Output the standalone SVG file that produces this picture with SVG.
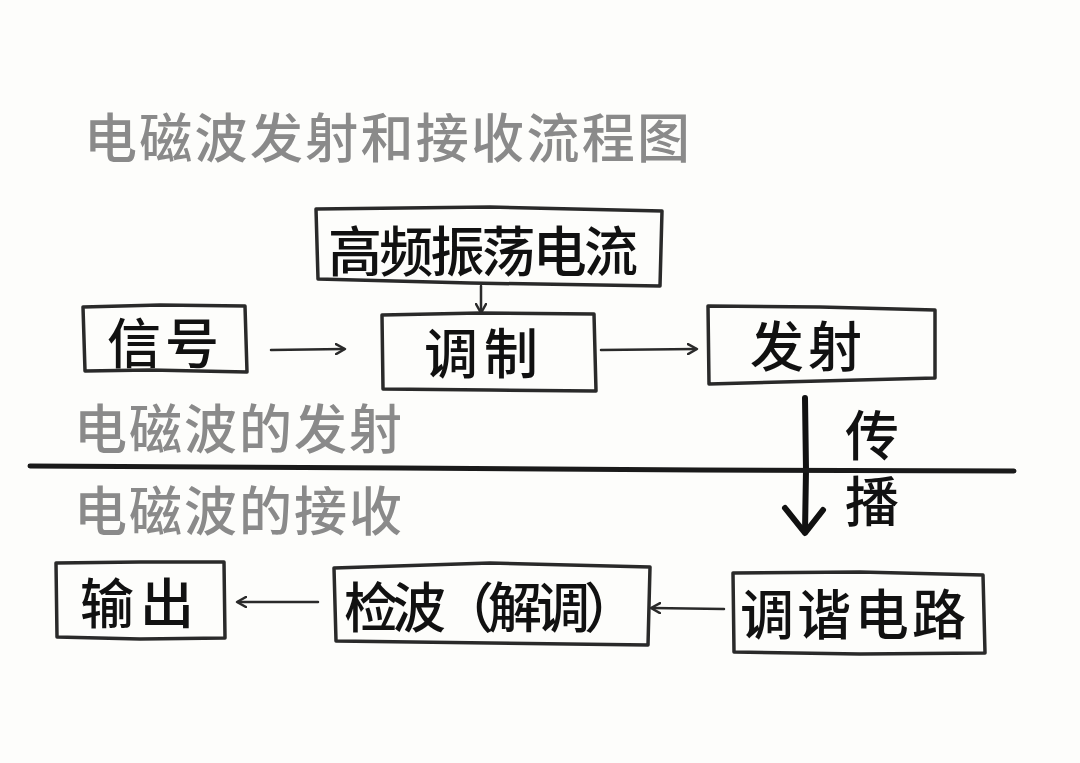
<svg xmlns="http://www.w3.org/2000/svg" width="1080" height="763" viewBox="0 0 1080 763">
<style>
.bg{fill:#fdfdfb}
.box{fill:none;stroke:#2a2a2a;stroke-width:3.5;stroke-linejoin:round;stroke-linecap:round}
.lbl{font-family:"Noto Sans CJK SC","Noto Sans",sans-serif;fill:#111;font-size:54px;font-weight:500}
.gray{font-family:"Noto Sans CJK SC","Noto Sans",sans-serif;fill:#8a8a8a;font-size:53px;font-weight:500}
.conn{fill:none;stroke:#2a2a2a;stroke-width:2.5;stroke-linecap:round}
</style>
<defs>
<marker id="ah" markerWidth="12" markerHeight="12" refX="9" refY="6" orient="auto" markerUnits="userSpaceOnUse">
<path d="M1,1 L10,6 L1,11" fill="none" stroke="#2a2a2a" stroke-width="2.5" stroke-linecap="round" stroke-linejoin="round"/>
</marker>
<marker id="ahbig" markerWidth="50" markerHeight="50" refX="25" refY="42" orient="0" markerUnits="userSpaceOnUse">
<path d="M5,18 L25,43 L43,20" fill="none" stroke="#111" stroke-width="6" stroke-linecap="round" stroke-linejoin="round"/>
</marker>
</defs>
<rect class="bg" x="0" y="0" width="1080" height="763"/>

<text class="gray" x="84" y="158" textLength="606" lengthAdjust="spacing">电磁波发射和接收流程图</text>
<text class="gray" x="74" y="449" textLength="328" lengthAdjust="spacing">电磁波的发射</text>
<text class="gray" x="74" y="531" textLength="328" lengthAdjust="spacing">电磁波的接收</text>

<g id="connectors">
<path class="conn" d="M481,286 L481,312" marker-end="url(#ah)"/>
<path class="conn" d="M271,350 L344,349" marker-end="url(#ah)"/>
<path class="conn" d="M601,350 L696,349" marker-end="url(#ah)"/>
<path d="M805,398 L806,470 L805,532" fill="none" stroke="#111" stroke-width="6" stroke-linecap="round" marker-end="url(#ahbig)"/>
<path class="conn" d="M318,602 L238,602" marker-end="url(#ah)"/>
<path class="conn" d="M724,609 L652,608" marker-end="url(#ah)"/>
<path d="M30,466 L400,468 L700,470 L1014,471" fill="none" stroke="#1a1a1a" stroke-width="5" stroke-linecap="round"/>
</g>

<g id="n-gaopin">
<path class="box" d="M316,209 L490,207 L662,211 L660,286 L470,283 L318,279 Z"/>
<text class="lbl" x="328" y="272" textLength="310" lengthAdjust="spacing">高频振荡电流</text>
</g>
<g id="n-xinhao">
<path class="box" d="M83,307 L160,305 L245,306 L247,372 L150,370 L85,371 Z"/>
<text class="lbl" x="107" y="364" textLength="112" lengthAdjust="spacing">信号</text>
</g>
<g id="n-tiaozhi">
<path class="box" d="M382,315 L480,313 L594,314 L596,391 L490,390 L383,389 Z"/>
<text class="lbl" x="424" y="374" textLength="114" lengthAdjust="spacing">调制</text>
</g>
<g id="n-fashe">
<path class="box" d="M708,306 L820,307 L935,310 L935,378 L820,381 L709,384 Z"/>
<text class="lbl" x="750" y="367" textLength="112" lengthAdjust="spacing">发射</text>
</g>
<g id="n-chuanbo">
<text class="lbl" x="872" y="408" writing-mode="tb" letter-spacing="12">传播</text>
</g>
<g id="n-shuchu">
<path class="box" d="M56,563 L140,562 L224,562 L225,638 L140,639 L57,637 Z"/>
<text class="lbl" x="80" y="624" textLength="114" lengthAdjust="spacing">输出</text>
</g>
<g id="n-jianbo">
<path class="box" d="M334,568 L490,563 L650,567 L648,645 L490,643 L336,641 Z"/>
<text class="lbl" x="344" y="628" textLength="294" lengthAdjust="spacing">检波（解调）</text>
</g>
<g id="n-tiaoxie">
<path class="box" d="M733,573 L860,572 L983,575 L985,653 L860,654 L734,652 Z"/>
<text class="lbl" x="740" y="635" textLength="226" lengthAdjust="spacing">调谐电路</text>
</g>
</svg>
